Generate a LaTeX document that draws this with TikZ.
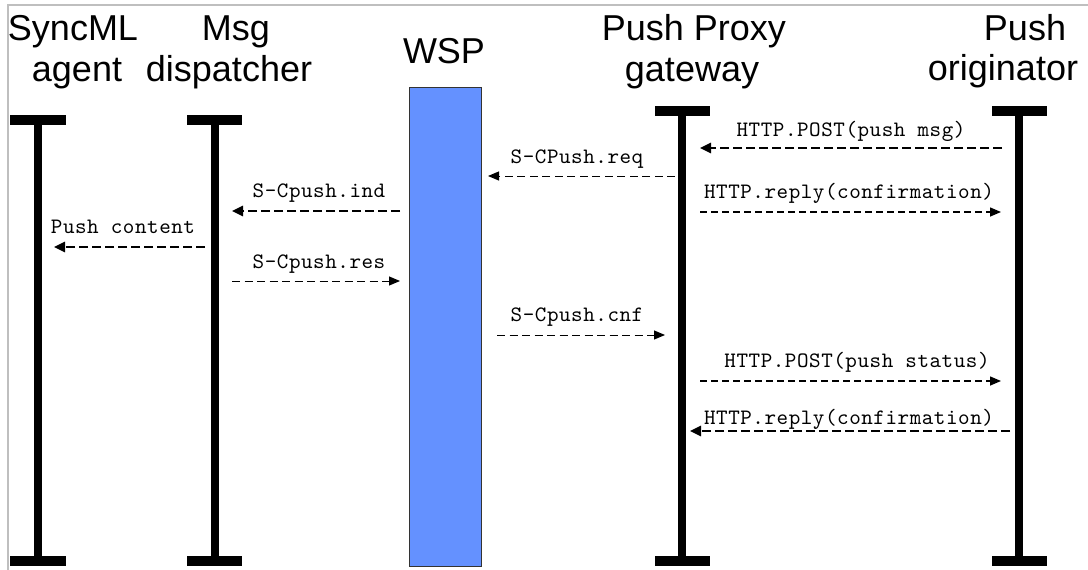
\documentclass[tikz,border=0pt]{standalone}
\usepackage{fontspec}
\newfontfamily\headfont{Liberation Sans}
\newfontfamily\msgfont{lmmono10-regular.otf}[LetterSpace=2.5]
\usetikzlibrary{arrows.meta}

\definecolor{wspblue}{RGB}{100,145,255}
\tikzset{
  head/.style={font=\headfont\fontsize{36}{40}\selectfont, anchor=base, inner sep=0pt},
  msg/.style={font=\msgfont\fontsize{22}{24}\selectfont, anchor=base, inner sep=0pt},
  lifeline/.style={line width=8pt},
  endbar/.style={line width=10pt},
  callthick/.style={line width=2.5pt, dash pattern=on 9pt off 4pt, -{Triangle[length=11pt,width=10pt]}},
  callmid/.style={line width=1.5pt, dash pattern=on 7pt off 4pt, -{Triangle[length=11pt,width=9pt]}},
  callthin/.style={line width=1pt, dash pattern=on 8pt off 4.5pt, -{Triangle[length=11pt,width=9pt]}},
}

\begin{document}
\begin{tikzpicture}[x=1pt,y=-1pt]
  \useasboundingbox (0,0) rectangle (1088,570);
  \draw[black!25, line width=1.5pt] (8,580) -- (8,5) -- (1100,5);

  % headers
  \node[head] (syncA) at (73,41) {SyncML};
  \node[head] (syncB) at (77,81) {agent};
  \node[head] (dispA) at (236,41) {Msg};
  \node[head] (dispB) at (229,81) {dispatcher};
  \node[head] (wsp) at (444,63) {WSP};
  \node[head] (ppgA) at (694,41) {Push Proxy};
  \node[head] (ppgB) at (692,81) {gateway};
  \node[head] (origA) at (1025,40) {Push};
  \node[head] (origB) at (1003,80) {originator};

  % lifelines
  \draw[lifeline] (37.5,119) -- (37.5,561);
  \draw[endbar] (10,119.5) -- (66,119.5);
  \draw[endbar] (10,561) -- (66,561);
  \draw[lifeline] (214.5,119) -- (214.5,561);
  \draw[endbar] (187,119.5) -- (242,119.5);
  \draw[endbar] (187,561) -- (242,561);
  \draw[fill=wspblue, draw=black!80, line width=1pt] (409,87) rectangle (481,566);
  \draw[lifeline] (682,110) -- (682,561);
  \draw[endbar] (655,110.5) -- (710,110.5);
  \draw[endbar] (655,561) -- (710,561);
  \draw[lifeline] (1019,110) -- (1019,561);
  \draw[endbar] (992,110.5) -- (1047,110.5);
  \draw[endbar] (992,561) -- (1047,561);

  % messages
  \coordinate (postS) at (1002,148); \coordinate (postE) at (700,148);
  \node[msg] (postL) at (851,136) {HTTP.POST(push msg)};
  \draw[callthick] (postS) -- (postE);

  \coordinate (reqS) at (675,176); \coordinate (reqE) at (488,176);
  \node[msg] (reqL) at (577,163) {S-CPush.req};
  \draw[callthin] (reqS) -- (reqE);

  \coordinate (rep1S) at (700,212); \coordinate (rep1E) at (1001,212);
  \node[msg] (rep1L) at (849,198) {HTTP.reply(confirmation)};
  \draw[callmid] (rep1S) -- (rep1E);

  \coordinate (indS) at (400,211); \coordinate (indE) at (232,211);
  \node[msg] (indL) at (319,197) {S-Cpush.ind};
  \draw[callthick] (indS) -- (indE);

  \coordinate (pushS) at (205,247); \coordinate (pushE) at (54,247);
  \node[msg] (pushL) at (123,233) {Push content};
  \draw[callthick] (pushS) -- (pushE);

  \coordinate (resS) at (232,281); \coordinate (resE) at (400,281);
  \node[msg] (resL) at (319,268) {S-Cpush.res};
  \draw[callthin] (resS) -- (resE);

  \coordinate (cnfS) at (497,335); \coordinate (cnfE) at (665,335);
  \node[msg] (cnfL) at (577,321) {S-Cpush.cnf};
  \draw[callthin] (cnfS) -- (cnfE);

  \coordinate (statS) at (700,381); \coordinate (statE) at (1001,381);
  \node[msg] (statL) at (857,367) {HTTP.POST(push status)};
  \draw[callmid] (statS) -- (statE);

  \coordinate (rep2S) at (1010,431); \coordinate (rep2E) at (690,431);
  \node[msg] (rep2L) at (849,424) {HTTP.reply(confirmation)};
  \draw[callthick] (rep2S) -- (rep2E);
\end{tikzpicture}
\end{document}
